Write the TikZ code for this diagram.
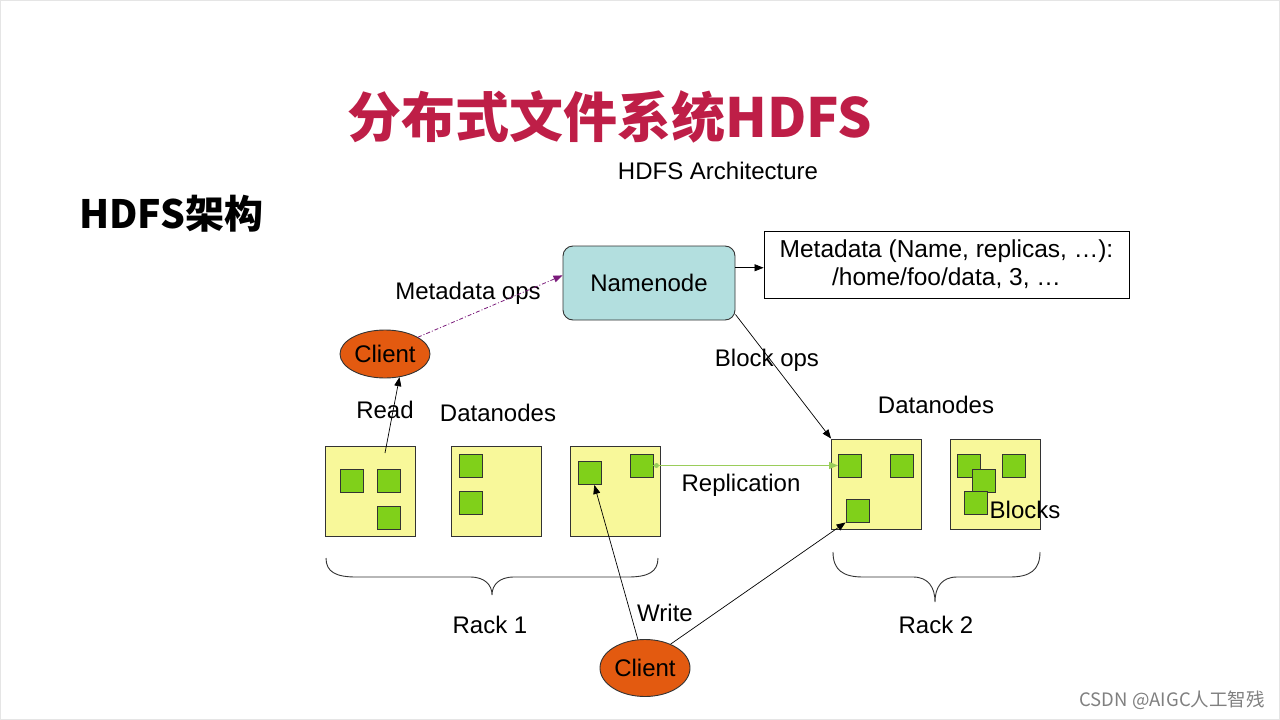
\documentclass[tikz,border=0pt]{standalone}
\usepackage{fontspec}
\setmainfont{Liberation Sans}
\newfontfamily\cjk{Noto Sans CJK SC}
\usetikzlibrary{arrows.meta,calc,shapes.geometric}
\definecolor{titlered}{HTML}{BE1E47}
\definecolor{nnfill}{HTML}{B3DFDF}
\definecolor{clfill}{HTML}{E35A10}
\definecolor{dnfill}{HTML}{F8F89A}
\definecolor{blkfill}{HTML}{80D01A}
\definecolor{edge}{HTML}{333333}
\definecolor{repl}{HTML}{9ACD5A}
\definecolor{mdops}{HTML}{7A1A7A}
\tikzset{
  lbl/.style={font=\fontsize{24}{28}\selectfont, inner sep=0pt},
  dnbox/.style={draw=edge, fill=dnfill, line width=0.9pt, minimum width=90pt, minimum height=90pt, inner sep=0pt},
  blk/.style={draw=edge, fill=blkfill, line width=0.9pt, minimum width=23pt, minimum height=23pt, inner sep=0pt},
  client/.style={ellipse, draw=edge, fill=clfill, line width=0.9pt, inner sep=0pt, font=\fontsize{24}{28}\selectfont},
  arr/.style={-{Triangle[length=9pt,width=7pt]}, line width=0.7pt, draw=black},
}
\begin{document}
\begin{tikzpicture}[x=1pt,y=-1pt]
\useasboundingbox (0,0) rectangle (1280,720);
\fill[white] (0,0) rectangle (1280,720);
\draw[black!10, line width=1pt] (0.5,0.5) rectangle (1279.5,719.5);

% titles
\node[font=\cjk\bfseries\fontsize{54}{60}\selectfont, text=titlered, inner sep=0pt] (title) at (610,117) {分布式文件系统HDFS};
\node[lbl] (arch) at (718,171) {HDFS Architecture};
\node[font=\cjk\bfseries\fontsize{39}{44}\selectfont, inner sep=0pt, anchor=west] (sub) at (79,214) {HDFS架构};

% namenode and metadata
\node[draw=edge, fill=nnfill, line width=0.9pt, rounded corners=10pt, minimum width=172pt, minimum height=74pt, lbl] (nn) at (649,283) {Namenode};
\node[draw=black, fill=white, line width=0.9pt, minimum width=365pt, minimum height=67pt, align=center, font=\fontsize{24.5}{28}\selectfont, inner sep=0pt] (meta) at (946.5,264.5) {Metadata (Name, replicas, \ldots):\\/home/foo/data, 3, \ldots};
\draw[arr] (nn.10) -- (meta.west |- nn.10);

% clients
\node[client, minimum width=90pt, minimum height=48pt] (c1) at (385,354) {Client};
\node[client, minimum width=90pt, minimum height=57pt] (c2) at (645,668) {Client};

% datanodes rack 1
\node[dnbox] (dn1) at (370,491.5) {};
\node[dnbox] (dn2) at (496.5,491.5) {};
\node[dnbox] (dn3) at (615,491.5) {};
% rack 2
\node[dnbox] (dn4) at (876.5,484) {};
\node[dnbox] (dn5) at (995,484) {};

% blocks
\node[blk] (b1a) at (351.5,480.5) {};
\node[blk] (b1b) at (388.5,480.5) {};
\node[blk] (b1c) at (388.5,518) {};
\node[blk] (b2a) at (470.5,465.5) {};
\node[blk] (b2b) at (470.5,503) {};
\node[blk] (b3a) at (589.5,473) {};
\node[blk] (b3b) at (641.5,465.5) {};
\node[blk] (b4a) at (850,465.5) {};
\node[blk] (b4b) at (902,465.5) {};
\node[blk] (b4c) at (857.5,510.5) {};
\node[blk] (b5a) at (969,465.5) {};
\node[blk] (b5b) at (1014,465.5) {};
\node[blk] (b5c) at (984,480.5) {};
\node[blk] (b5d) at (976,503) {};

% labels
\node[lbl] (lmd) at (468,293) {Metadata ops};
\node[lbl] (lread) at (385,410) {Read};
\node[lbl] (ldn1) at (498,413) {Datanodes};
\node[lbl] (ldn2) at (936,405) {Datanodes};
\node[lbl] (lbo) at (767,360) {Block ops};
\node[lbl] (lrep) at (741,485) {Replication};
\node[lbl] (lblk) at (1025,510) {Blocks};
\node[lbl] (lw) at (665,613) {Write};
\node[lbl] (lr1) at (490,625) {Rack 1};
\node[lbl] (lr2) at (936,625) {Rack 2};

% connectors
\draw[mdops, line width=0.8pt, dash pattern=on 4pt off 2pt on 1pt off 2pt, -{Triangle[length=9pt,width=7pt]}] (c1.27) -- (nn.175);
\coordinate (rs) at (385,453);
\draw[arr] (rs) -- (c1.-58);
\draw[arr] (nn.-20) -- (dn4.north west);
\draw[repl, line width=1pt, -{Triangle[length=9pt,width=7pt]}] (b3b.east) -- (b4a.west);
\fill[repl] (b3b.east) ++(3,0) circle (2.5pt);
\draw[arr] (c2.104) -- (b3a.-68);
\draw[arr] (c2.43) -- (b4c.south west);

% braces
\draw[edge, line width=0.9pt] (326,558) .. controls (326,572) and (336,577) .. (356,577) -- (470,577) .. controls (485,577) and (492,585) .. (492,595) .. controls (492,585) and (499,577) .. (514,577) -- (628,577) .. controls (648,577) and (658,572) .. (658,558);
\draw[edge, line width=0.9pt] (833,552) .. controls (833,570) and (843,577) .. (863,577) -- (913,577) .. controls (928,577) and (935,587) .. (935,602) .. controls (935,587) and (942,577) .. (957,577) -- (1010,577) .. controls (1030,577) and (1040,570) .. (1040,552);

% watermark
\node[font=\cjk\fontsize{18.5}{20}\selectfont, text=black!50, inner sep=0pt, anchor=east] (wm) at (1265,700) {CSDN @AIGC人工智残};
\end{tikzpicture}
\end{document}
